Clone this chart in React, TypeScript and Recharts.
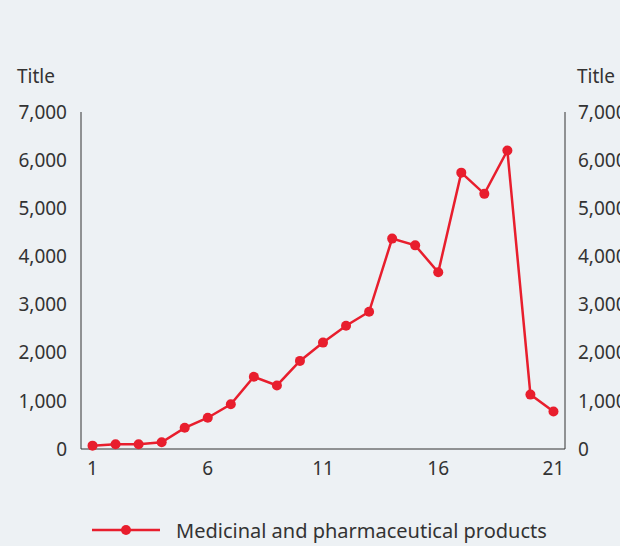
import React from 'react';
import { LineChart, Line, XAxis, YAxis, Legend } from 'recharts';

const periods = [1, 2, 3, 4, 5, 6, 7, 8, 9, 10, 11, 12, 13, 14, 15, 16, 17, 18, 19, 20, 21];
const medicinalValues = [70, 100, 100, 140, 440, 650, 930, 1500, 1320, 1830, 2210, 2560, 2850, 4370, 4230, 3670, 5740, 5300, 6200, 1130, 780];
const xTicks = [1, 6, 11, 16, 21];
const yTicks = [0, 1000, 2000, 3000, 4000, 5000, 6000, 7000];
const seriesName = 'Medicinal and pharmaceutical products';
const axisTitle = 'Title';

const data = periods.map((p, i) => ({ period: p, value: medicinalValues[i] }));

const RED = '#e81e2d';
const TEXT = '#333333';
const FONT = '"Noto Sans", "Open Sans", sans-serif';
const TICK_FS = 19;

const fmt = (v: number) => v.toLocaleString('en-US');

const LegendContent = () => (
  <div style={{ display: 'flex', alignItems: 'center', height: 30, fontFamily: FONT, fontSize: 20, color: TEXT, whiteSpace: 'nowrap' }}>
    <svg width={68} height={14} style={{ marginRight: 16, flex: 'none' }}>
      <line x1={0} y1={7} x2={68} y2={7} stroke={RED} strokeWidth={2.5} />
      <circle cx={34} cy={7} r={5} fill={RED} />
    </svg>
    <span>{seriesName}</span>
  </div>
);

export default function App() {
  return (
    <div style={{ position: 'absolute', left: 0, top: 0, width: 620, height: 546, background: '#edf1f4', overflow: 'hidden' }}>
      <LineChart width={620} height={546} data={data} margin={{ top: 112, right: 0, bottom: 37, left: 0 }}>
        <XAxis
          dataKey="period"
          type="number"
          domain={[0.5, 21.5]}
          ticks={xTicks}
          axisLine={{ stroke: TEXT, strokeWidth: 1 }}
          tickLine={false}
          tickSize={0}
          tickMargin={13}
          height={30}
          tick={{ fill: TEXT, fontSize: TICK_FS, fontFamily: FONT }}
        />
        <YAxis
          yAxisId="left"
          orientation="left"
          width={81}
          domain={[0, 7000]}
          ticks={yTicks}
          tickFormatter={fmt}
          axisLine={{ stroke: TEXT, strokeWidth: 1 }}
          tickLine={false}
          tickSize={0}
          tickMargin={14}
          tick={{ fill: TEXT, fontSize: TICK_FS, fontFamily: FONT }}
          label={{
            content: (props: any) => (
              <text x={17} y={props.viewBox.y - 29} fill={TEXT} fontSize={TICK_FS} fontFamily={FONT}>
                {axisTitle}
              </text>
            ),
          }}
        />
        <YAxis
          yAxisId="right"
          orientation="right"
          width={55}
          domain={[0, 7000]}
          ticks={yTicks}
          tickFormatter={fmt}
          axisLine={{ stroke: TEXT, strokeWidth: 1 }}
          tickLine={false}
          tickSize={0}
          tickMargin={13}
          tick={{ fill: TEXT, fontSize: TICK_FS, fontFamily: FONT, textAnchor: 'start' }}
          label={{
            content: (props: any) => (
              <text x={props.viewBox.x + 12} y={props.viewBox.y - 29} fill={TEXT} fontSize={TICK_FS} fontFamily={FONT}>
                {axisTitle}
              </text>
            ),
          }}
        />
        <Legend
          verticalAlign="bottom"
          content={() => <LegendContent />}
          wrapperStyle={{ top: 515, bottom: 'auto', left: 92, width: 528 }}
        />
        <Line
          yAxisId="left"
          dataKey="value"
          name={seriesName}
          stroke={RED}
          strokeWidth={2.5}
          dot={{ r: 5, fill: RED, stroke: RED, strokeWidth: 0 }}
          activeDot={false}
          isAnimationActive={false}
        />
        <Line
          yAxisId="right"
          dataKey="value"
          stroke="none"
          dot={false}
          activeDot={false}
          legendType="none"
          isAnimationActive={false}
        />
      </LineChart>
    </div>
  );
}
